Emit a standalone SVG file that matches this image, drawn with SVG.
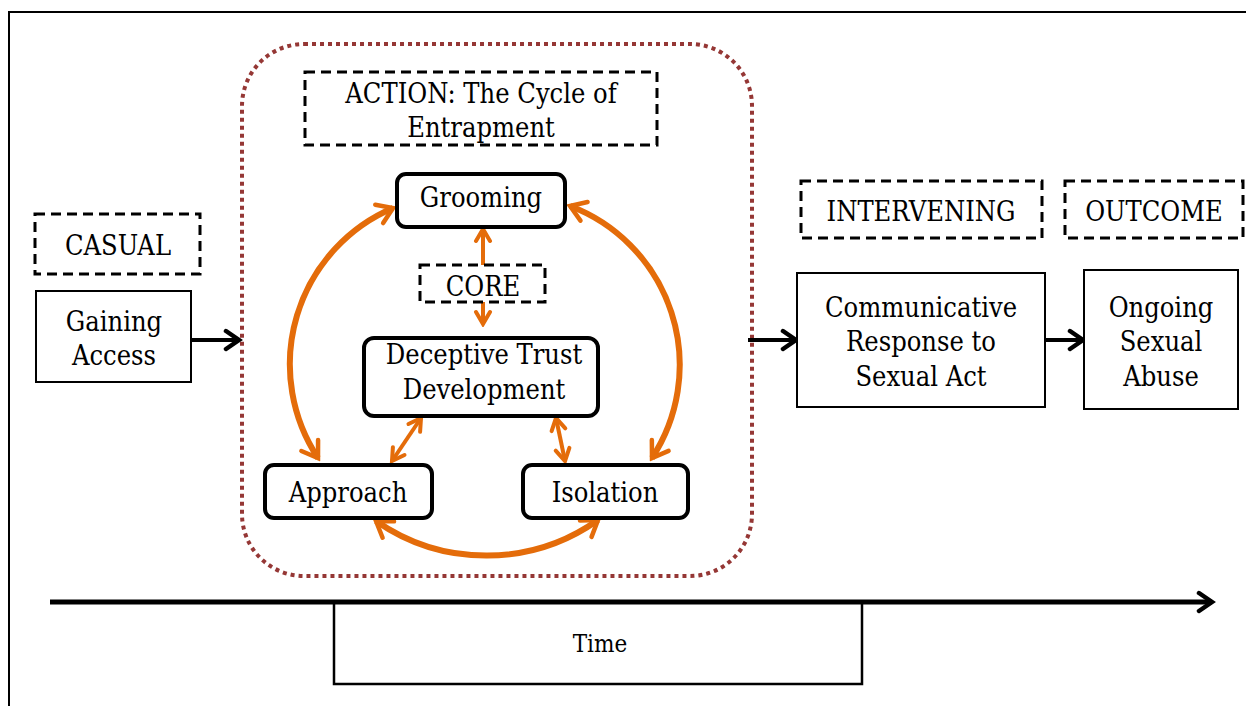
<svg xmlns="http://www.w3.org/2000/svg" width="1246" height="706" viewBox="0 0 1246 706">
  <style>
    text { font-family: "DejaVu Serif Condensed", "DejaVu Serif", serif; font-size: 27px; fill: #000; text-anchor: middle; }
    .box { fill: #fff; stroke: #000; stroke-width: 2; }
    .dash { fill: #fff; stroke: #000; stroke-width: 3; stroke-dasharray: 10 6; }
    .cyc { fill: #fff; stroke: #000; stroke-width: 4; }
    .orange { fill: none; stroke: #E46C0A; stroke-width: 6; }
    .orange-thin { fill: none; stroke: #E46C0A; stroke-width: 4; }
    .black { fill: none; stroke: #000; stroke-width: 4; }
  </style>
  <defs>
    <marker id="oh" viewBox="0 0 26 26" refX="22" refY="13" markerWidth="26" markerHeight="26" markerUnits="userSpaceOnUse" orient="auto-start-reverse">
      <path d="M7,3 L22,13 L7,23" fill="none" stroke="#E46C0A" stroke-width="4.5" stroke-linecap="round"/>
    </marker>
    <marker id="ohs" viewBox="0 0 20 20" refX="17" refY="10" markerWidth="20" markerHeight="20" markerUnits="userSpaceOnUse" orient="auto-start-reverse">
      <path d="M5,3 L17,10 L5,17" fill="none" stroke="#E46C0A" stroke-width="4" stroke-linecap="round"/>
    </marker>
    <marker id="bh" viewBox="0 0 24 24" refX="20" refY="12" markerWidth="24" markerHeight="24" markerUnits="userSpaceOnUse" orient="auto">
      <path d="M7,3 L20,12 L7,21" fill="none" stroke="#000" stroke-width="4.5" stroke-linecap="round"/>
    </marker>
  </defs>

  <!-- frame -->
  <path d="M9,706 V12 H1246" fill="none" stroke="#000" stroke-width="2"/>

  <!-- dotted enclosure of the cycle -->
  <rect x="242" y="44" width="510" height="532" rx="62" ry="62" fill="none" stroke="#953735" stroke-width="4" stroke-dasharray="4 4"/>

  <!-- connectors -->
  <g id="connectors">
    <path class="orange" d="M393,208 A170,170 0 0 0 318,458" marker-start="url(#oh)" marker-end="url(#oh)"/>
    <path class="orange" d="M570,206 A170,170 0 0 1 652,458" marker-start="url(#oh)" marker-end="url(#oh)"/>
    <path class="orange" d="M376,521 A193,193 0 0 0 598,520" marker-start="url(#oh)" marker-end="url(#oh)"/>
    <path class="orange-thin" d="M483,229 V324" marker-start="url(#ohs)" marker-end="url(#ohs)"/>
    <path class="orange-thin" d="M421,418 L392,461" marker-start="url(#ohs)" marker-end="url(#ohs)"/>
    <path class="orange-thin" d="M556,418 L565,461" marker-start="url(#ohs)" marker-end="url(#ohs)"/>
    <path class="black" d="M191,340 H239" marker-end="url(#bh)"/>
    <path class="black" d="M748,340 H796" marker-end="url(#bh)"/>
    <path class="black" d="M1045,340 H1083" marker-end="url(#bh)"/>
    <path d="M50,602 H1212" fill="none" stroke="#000" stroke-width="5" marker-end="url(#bh)"/>
  </g>

  <g id="action-label">
    <rect class="dash" x="305" y="72" width="352" height="73"/>
    <text x="481" y="103">ACTION: The Cycle of</text>
    <text x="481" y="137">Entrapment</text>
  </g>

  <g id="grooming">
    <rect class="cyc" x="397" y="174" width="168" height="53" rx="9"/>
    <text x="481" y="207">Grooming</text>
  </g>

  <g id="core">
    <rect class="dash" x="420" y="265" width="125" height="37"/>
    <text x="483" y="296">CORE</text>
  </g>

  <g id="deceptive-trust">
    <rect class="cyc" x="364" y="338" width="234" height="78" rx="10"/>
    <text x="484" y="364">Deceptive Trust</text>
    <text x="484" y="399">Development</text>
  </g>

  <g id="approach">
    <rect class="cyc" x="265" y="465" width="167" height="53" rx="9"/>
    <text x="348" y="502">Approach</text>
  </g>

  <g id="isolation">
    <rect class="cyc" x="523" y="465" width="165" height="53" rx="9"/>
    <text x="605" y="502">Isolation</text>
  </g>

  <g id="casual">
    <rect class="dash" x="35" y="214" width="165" height="60"/>
    <text x="118" y="255">CASUAL</text>
  </g>

  <g id="gaining-access">
    <rect class="box" x="36" y="291" width="155" height="91"/>
    <text x="114" y="331">Gaining</text>
    <text x="114" y="365">Access</text>
  </g>

  <g id="intervening">
    <rect class="dash" x="801" y="181" width="241" height="57"/>
    <text x="921" y="221">INTERVENING</text>
  </g>

  <g id="outcome">
    <rect class="dash" x="1065" y="181" width="178" height="57"/>
    <text x="1154" y="221">OUTCOME</text>
  </g>

  <g id="communicative-response">
    <rect class="box" x="797" y="273" width="248" height="134"/>
    <text x="921" y="317">Communicative</text>
    <text x="921" y="351">Response to</text>
    <text x="921" y="386">Sexual Act</text>
  </g>

  <g id="ongoing-abuse">
    <rect class="box" x="1084" y="270" width="154" height="139"/>
    <text x="1161" y="317">Ongoing</text>
    <text x="1161" y="351">Sexual</text>
    <text x="1161" y="386">Abuse</text>
  </g>

  <g id="time">
    <path d="M334,602 V684 H862 V602" fill="none" stroke="#000" stroke-width="2.5"/>
    <text x="600" y="652" style="font-size:24px">Time</text>
  </g>
</svg>
